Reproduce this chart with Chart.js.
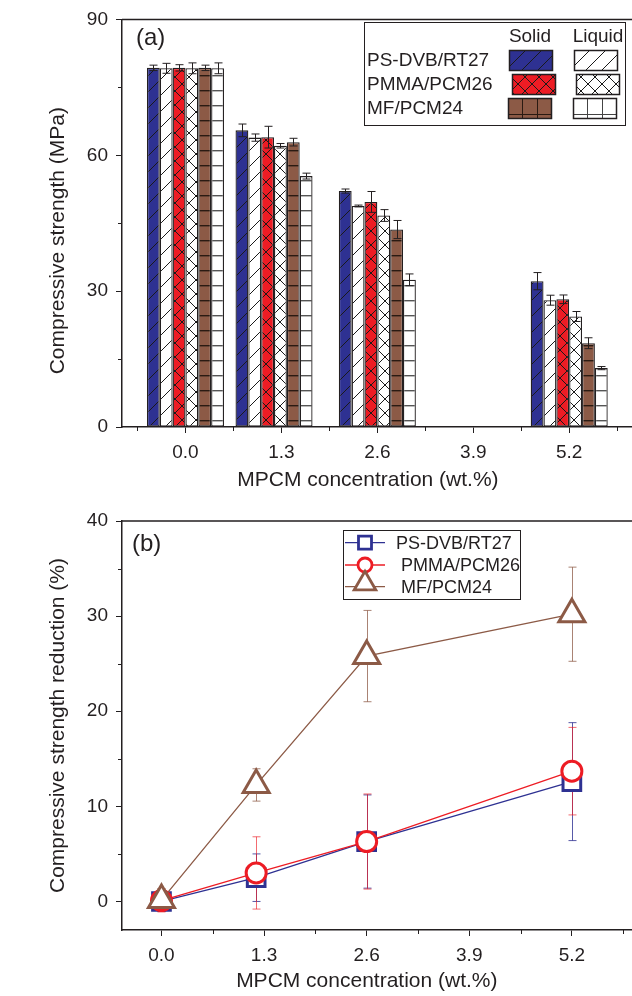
<!DOCTYPE html>
<html>
<head>
<meta charset="utf-8">
<script src="https://cdn.jsdelivr.net/npm/chart.js@4.4.1/dist/chart.umd.min.js"></script>
<style>
  html, body { margin: 0; padding: 0; background: #fff; overflow: hidden; width: 632px; height: 996px; }
  canvas { position: absolute; left: 0; }
  #graficoA { top: 0; }
  #graficoB { top: 500px; }
</style>
</head>
<body>
<canvas id="graficoA" width="680" height="500"></canvas>
<canvas id="graficoB" width="680" height="496"></canvas>
<script>
// ---- datos ----
const concentrations = [0, 1.2, 2.6, 5.2];
const xTickValues = [0, 1.3, 2.6, 3.9, 5.2];
const xTickLabels = ['0.0', '1.3', '2.6', '3.9', '5.2'];
const xMinorTicks = [-0.65, 0.65, 1.95, 3.25, 4.55, 5.85];
const seriesNames = ['PS-DVB/RT27', 'PMMA/PCM26', 'MF/PCM24'];

// (a) compressive strength, MPa
const strengthTicks = [0, 30, 60, 90];
const strengthMinor = [15, 45, 75];
const psSolid = [79.3, 65.5, 52.1, 32.2];
const psSolidErr = [0.6, 1.4, 0.45, 1.9];
const psLiquid = [79.2, 63.9, 48.8, 28.0];
const psLiquidErr = [1.1, 0.8, 0.2, 1.1];
const pmmaSolid = [79.3, 64.0, 49.7, 28.2];
const pmmaSolidErr = [0.7, 2.4, 2.3, 0.95];
const pmmaLiquid = [79.2, 62.1, 46.7, 24.4];
const pmmaLiquidErr = [1.2, 0.5, 1.3, 1.1];
const mfSolid = [79.3, 62.9, 43.6, 18.5];
const mfSolidErr = [0.6, 0.85, 2.0, 1.2];
const mfLiquid = [79.2, 55.4, 32.5, 13.0];
const mfLiquidErr = [1.2, 0.65, 1.3, 0.35];

// (b) strength reduction, %
const reductionTicks = [0, 10, 20, 30, 40];
const reductionMinor = [5, 15, 25, 35];
const psReduction = [0.0, 2.5, 6.3, 12.6];
const psReductionErr = [1.0, 2.5, 4.9, 6.2];
const pmmaReduction = [0.1, 3.0, 6.3, 13.7];
const pmmaReductionErr = [1.2, 3.8, 5.0, 4.6];
const mfReduction = [0.15, 12.25, 25.8, 30.2];
const mfReductionErr = [1.2, 1.7, 4.8, 4.95];

const FONT = "'Liberation Sans', Arial, sans-serif";
const INK = '#231f20';
const BLUE = '#2e3192';
const RED = '#ed1c24';
const BROWN = '#8c5a46';
Chart.defaults.font.family = FONT;
Chart.defaults.color = INK;

function pts(values) {
    return concentrations.map((x, i) => ({ x: x, y: values[i] }));
}

// patrones de relleno
function makePattern(bg, fg, kind) {
    const size = kind === 'slash' ? 16 : (kind === 'cross' ? 14 : 15);
    const c = document.createElement('canvas');
    c.width = size; c.height = size;
    const g = c.getContext('2d');
    g.fillStyle = bg;
    g.fillRect(0, 0, size, size);
    g.strokeStyle = fg;
    g.lineWidth = 1;
    g.beginPath();
    if (kind === 'slash') {
        g.moveTo(-2, size + 2); g.lineTo(size + 2, -2);
    } else if (kind === 'cross') {
        g.moveTo(-2, size + 2); g.lineTo(size + 2, -2);
        g.moveTo(-2, -2); g.lineTo(size + 2, size + 2);
    } else {
        g.lineWidth = 1.4;
        g.moveTo(0, 0.7); g.lineTo(size, 0.7);
    }
    g.stroke();
    return g.createPattern(c, 'repeat');
}
const patBlue = makePattern(BLUE, '#1a1a1a', 'slash');
const patBlueLiq = makePattern('#ffffff', '#1a1a1a', 'slash');
const patRed = makePattern(RED, '#1a1a1a', 'cross');
const patRedLiq = makePattern('#ffffff', '#1a1a1a', 'cross');
const patBrown = makePattern(BROWN, '#2a1a12', 'hline');
const patBrownLiq = makePattern('#ffffff', '#555555', 'hline');

function drawErrors(chart, cap) {
    const ctx = chart.ctx;
    const y = chart.scales.y;
    chart.data.datasets.forEach((ds, i) => {
        const meta = chart.getDatasetMeta(i);
        ctx.save();
        ctx.strokeStyle = ds.errorColor;
        ctx.lineWidth = 1;
        meta.data.forEach((el, j) => {
            const v = ds.data[j].y, e = ds.errors[j];
            const x = Math.round(el.x) + 0.5;
            const top = y.getPixelForValue(v + e);
            const bot = y.getPixelForValue(v - e);
            ctx.beginPath();
            ctx.moveTo(x, top); ctx.lineTo(x, bot);
            ctx.moveTo(x - cap, top); ctx.lineTo(x + cap, top);
            ctx.moveTo(x - cap, bot); ctx.lineTo(x + cap, bot);
            ctx.stroke();
        });
        ctx.restore();
    });
}

function frameAndMinor(yMinor) {
    return {
        id: 'frameAndMinor',
        afterDraw(chart) {
            const { ctx, chartArea: a, scales } = chart;
            ctx.save();
            ctx.strokeStyle = INK;
            ctx.lineWidth = 1.5;
            ctx.beginPath();
            ctx.moveTo(a.left, a.top); ctx.lineTo(a.right, a.top); ctx.lineTo(a.right, a.bottom);
            ctx.stroke();
            ctx.lineWidth = 1;
            ctx.beginPath();
            xMinorTicks.forEach(v => {
                if (v < scales.x.min || v > scales.x.max) return;
                const p = Math.round(scales.x.getPixelForValue(v)) + 0.5;
                ctx.moveTo(p, a.bottom); ctx.lineTo(p, a.bottom + 4);
            });
            yMinor.forEach(v => {
                if (v < scales.y.min || v > scales.y.max) return;
                const p = Math.round(scales.y.getPixelForValue(v)) + 0.5;
                ctx.moveTo(a.left - 4, p); ctx.lineTo(a.left, p);
            });
            ctx.stroke();
            ctx.restore();
        }
    };
}

function axisX(min, max, height, titlePad, title) {
    return {
        type: 'linear', min: min, max: max, offset: false,
        afterBuildTicks: s => { s.ticks = xTickValues.map(v => ({ value: v })); },
        afterFit: s => { s.height = height; },
        ticks: { callback: (v, i) => xTickLabels[i], font: { size: 19 }, color: INK, padding: 8, maxRotation: 0, autoSkip: false },
        grid: { drawOnChartArea: false, drawTicks: true, tickLength: 6, tickColor: INK, tickWidth: 1, offset: false },
        border: { display: true, color: INK, width: 1.5 },
        title: { display: true, text: title, font: { size: 21 }, color: INK, padding: { top: 0, bottom: titlePad } }
    };
}
function axisY(min, max, tickValues, title) {
    return {
        min: min, max: max,
        afterBuildTicks: s => { s.ticks = tickValues.map(v => ({ value: v })); },
        afterFit: s => { s.width = 122; },
        ticks: { font: { size: 19 }, color: INK, padding: 8 },
        grid: { drawOnChartArea: false, drawTicks: true, tickLength: 6, tickColor: INK, tickWidth: 1 },
        border: { display: true, color: INK, width: 1.5 },
        title: { display: true, text: title, font: { size: 21 }, color: INK, padding: { top: 46, bottom: 0 } }
    };
}

// ---- (a) gráfico de barras ----
const leyendaA = {
    id: 'leyendaA',
    afterDraw(chart) {
        const ctx = chart.ctx;
        const ds = chart.data.datasets;
        ctx.save();
        ctx.fillStyle = INK;
        ctx.font = '24px ' + FONT;
        ctx.textBaseline = 'middle';
        ctx.fillText('(a)', 136, 38);

        ctx.strokeStyle = INK;
        ctx.lineWidth = 1;
        ctx.fillStyle = '#fff';
        ctx.fillRect(364.5, 22.5, 261, 103);
        ctx.strokeRect(364.5, 22.5, 261, 103);
        ctx.fillStyle = INK;
        ctx.font = '19px ' + FONT;
        ctx.textAlign = 'center';
        ctx.fillText('Solid', 530, 37);
        ctx.fillText('Liquid', 598, 37);
        ctx.textAlign = 'left';
        const rowsY = [60, 84, 108];
        const boxes = [[509, 574], [512, 576], [508, 573]];
        seriesNames.forEach((name, r) => {
            ctx.fillStyle = INK;
            ctx.fillText(name, 367, rowsY[r] + 1);
            [0, 1].forEach(k => {
                const bx = boxes[r][k] + 0.5, by = rowsY[r] - 10 + 0.5, w = 43, h = 20;
                ctx.fillStyle = ds[r * 2 + k].backgroundColor;
                ctx.fillRect(bx, by, w, h);
                ctx.lineWidth = 1;
                ctx.strokeStyle = INK;
                if (r === 2) {
                    ctx.fillStyle = k === 0 ? BROWN : '#fff';
                    ctx.fillRect(bx, by, w, h);
                    ctx.strokeStyle = k === 0 ? '#2a1a12' : '#444';
                    ctx.beginPath();
                    ctx.moveTo(bx + 14, by); ctx.lineTo(bx + 14, by + h);
                    ctx.moveTo(bx + 29, by); ctx.lineTo(bx + 29, by + h);
                    ctx.moveTo(bx, by + 16); ctx.lineTo(bx + w, by + 16);
                    ctx.stroke();
                    ctx.strokeStyle = INK;
                }
                ctx.lineWidth = 1.5;
                ctx.strokeRect(bx, by, w, h);
            });
        });
        ctx.restore();
    }
};

new Chart(document.getElementById('graficoA'), {
    type: 'bar',
    data: {
        datasets: [
            { label: 'PS-DVB/RT27 Solid', data: pts(psSolid), backgroundColor: patBlue, errors: psSolidErr, errorColor: INK },
            { label: 'PS-DVB/RT27 Liquid', data: pts(psLiquid), backgroundColor: patBlueLiq, errors: psLiquidErr, errorColor: INK },
            { label: 'PMMA/PCM26 Solid', data: pts(pmmaSolid), backgroundColor: patRed, errors: pmmaSolidErr, errorColor: INK },
            { label: 'PMMA/PCM26 Liquid', data: pts(pmmaLiquid), backgroundColor: patRedLiq, errors: pmmaLiquidErr, errorColor: INK },
            { label: 'MF/PCM24 Solid', data: pts(mfSolid), backgroundColor: patBrown, errors: mfSolidErr, errorColor: INK },
            { label: 'MF/PCM24 Liquid', data: pts(mfLiquid), backgroundColor: patBrownLiq, errors: mfLiquidErr, errorColor: INK }
        ]
    },
    options: {
        responsive: false,
        animation: false,
        events: [],
        devicePixelRatio: 1,
        layout: { padding: { top: 16, right: 37, left: 0, bottom: 0 } },
        datasets: { bar: { borderColor: INK, borderWidth: 1.3, borderSkipped: false, barPercentage: 1, categoryPercentage: 0.87 } },
        scales: {
            x: axisX(-0.86, 6.2, 73, 7, 'MPCM concentration (wt.%)     '),
            y: axisY(0, 90, strengthTicks, 'Compressive strength (MPa)      ')
        },
        plugins: { legend: { display: false }, tooltip: { enabled: false } }
    },
    plugins: [
        { id: 'errA', afterDatasetsDraw: chart => drawErrors(chart, 4) },
        frameAndMinor(strengthMinor),
        leyendaA
    ]
});

// ---- (b) gráfico de líneas ----
function markerPath(ctx, style, x, y, r) {
    ctx.beginPath();
    if (style === 'rect') {
        ctx.rect(x - r, y - r, 2 * r, 2 * r);
    } else if (style === 'circle') {
        ctx.arc(x, y, r, 0, Math.PI * 2);
    } else {
        ctx.moveTo(x, y - r);
        ctx.lineTo(x + r * 0.866, y + r / 2);
        ctx.lineTo(x - r * 0.866, y + r / 2);
        ctx.closePath();
    }
}

const leyendaB = {
    id: 'leyendaB',
    afterDraw(chart) {
        const ctx = chart.ctx;
        const ds = chart.data.datasets;
        ctx.save();
        ctx.fillStyle = INK;
        ctx.font = '24px ' + FONT;
        ctx.textBaseline = 'middle';
        ctx.fillText('(b)', 132, 44);

        ctx.fillStyle = '#fff';
        ctx.fillRect(343.5, 30.5, 177, 69);
        ctx.strokeStyle = INK;
        ctx.lineWidth = 1;
        ctx.strokeRect(343.5, 30.5, 177, 69);
        const rowsY = [42.7, 65, 86.7];
        const sizes = [6.5, 7, 12.5];
        const textX = [396, 401, 401];
        ctx.font = '18px ' + FONT;
        ds.forEach((d, r) => {
            ctx.strokeStyle = d.borderColor;
            ctx.lineWidth = 1.3;
            ctx.beginPath();
            ctx.moveTo(345, rowsY[r]); ctx.lineTo(385, rowsY[r]);
            ctx.stroke();
            const cy = d.pointStyle === 'triangle' ? rowsY[r] - 3 : rowsY[r];
            markerPath(ctx, d.pointStyle, 365, cy, sizes[r]);
            ctx.fillStyle = '#fff';
            ctx.fill();
            ctx.lineWidth = 2.8;
            ctx.stroke();
            ctx.fillStyle = INK;
            ctx.fillText(d.label, textX[r], rowsY[r] + 1);
        });
        ctx.restore();
    }
};

new Chart(document.getElementById('graficoB'), {
    type: 'line',
    data: {
        datasets: [
            { label: seriesNames[0], data: pts(psReduction), borderColor: BLUE, pointBorderColor: BLUE, pointStyle: 'rect', pointRadius: 12.5, order: 3, errors: psReductionErr, errorColor: 'rgba(46,49,146,0.8)' },
            { label: seriesNames[1], data: pts(pmmaReduction), borderColor: RED, pointBorderColor: RED, pointStyle: 'circle', pointRadius: 10, order: 2, errors: pmmaReductionErr, errorColor: 'rgba(237,28,36,0.65)' },
            { label: seriesNames[2], data: pts(mfReduction), borderColor: BROWN, pointBorderColor: BROWN, pointStyle: 'triangle', pointRadius: 15, order: 1, errors: mfReductionErr, errorColor: 'rgba(140,90,70,0.75)' }
        ]
    },
    options: {
        responsive: false,
        animation: false,
        events: [],
        devicePixelRatio: 1,
        layout: { padding: { top: 21, right: 45, left: 0, bottom: 0 } },
        datasets: { line: { borderWidth: 1.3, tension: 0, pointBackgroundColor: '#fff', pointBorderWidth: 3, clip: false } },
        scales: {
            x: axisX(-0.5, 6.0, 66, 2, 'MPCM concentration (wt.%)    '),
            y: axisY(-3, 40, reductionTicks, 'Compressive strength reduction (%)')
        },
        plugins: { legend: { display: false }, tooltip: { enabled: false } }
    },
    plugins: [
        { id: 'errB', beforeDatasetsDraw: chart => drawErrors(chart, 4) },
        frameAndMinor(reductionMinor),
        leyendaB
    ]
});
</script>
</body>
</html>
